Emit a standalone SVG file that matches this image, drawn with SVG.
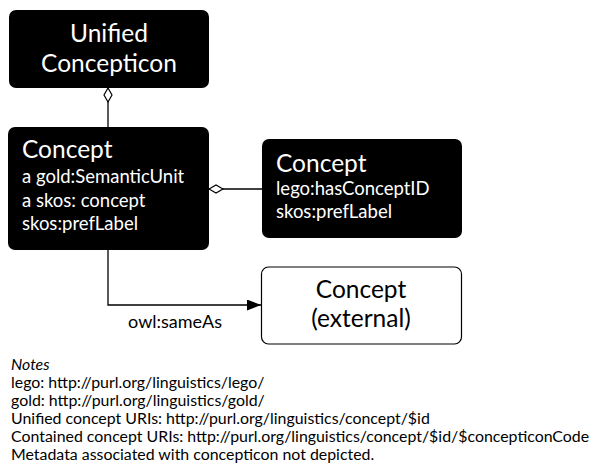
<svg xmlns="http://www.w3.org/2000/svg" width="601" height="475" viewBox="0 0 601 475">
<style>
text{font-family:Lato,"Open Sans","DejaVu Sans",sans-serif}
.dark{fill:#000}
.light{fill:#fff;stroke:#000;stroke-width:1.2}
.w{fill:#fff}
.big{font-size:24.5px}
.mid{font-size:18.5px}
.note{font-size:15.9px;fill:#000}
.conn{fill:none;stroke:#000;stroke-width:1.3}
</style>
<defs>
<marker id="dia" markerWidth="16" markerHeight="10" refX="15" refY="5" orient="auto" markerUnits="userSpaceOnUse">
<path d="M1,5 L8,1 L15,5 L8,9 Z" fill="#fff" stroke="#000" stroke-width="1.2"/>
</marker>
<marker id="arr" markerWidth="14" markerHeight="11" refX="14" refY="5.5" orient="auto" markerUnits="userSpaceOnUse">
<path d="M0,0 L14,5.5 L0,11 Z" fill="#000"/>
</marker>
</defs>
<g id="connectors">
<path class="conn" d="M108,127 L108,88" marker-end="url(#dia)"/>
<path class="conn" d="M262,189 L209,189" marker-end="url(#dia)"/>
<path class="conn" d="M108,250 L108,305 L261,305" marker-end="url(#arr)"/>
<text x="175" y="328" text-anchor="middle" font-size="18" fill="#000">owl:sameAs</text>
</g>
<g id="unified">
<rect class="dark" x="9" y="10" width="200" height="78" rx="7"/>
<text class="w big" x="109" y="42" text-anchor="middle">Unified</text>
<text class="w big" x="109" y="72" text-anchor="middle">Concepticon</text>
</g>
<g id="concept">
<rect class="dark" x="8" y="127" width="201" height="123" rx="7"/>
<text class="w big" x="22" y="158">Concept</text>
<text class="w mid" x="22" y="183">a gold:SemanticUnit</text>
<text class="w mid" x="22" y="207">a skos: concept</text>
<text class="w mid" x="22" y="230">skos:prefLabel</text>
</g>
<g id="concept-contained">
<rect class="dark" x="262" y="139" width="200" height="99" rx="7"/>
<text class="w big" x="276" y="172">Concept</text>
<text class="w mid" x="276" y="195">lego:hasConceptID</text>
<text class="w mid" x="276" y="218">skos:prefLabel</text>
</g>
<g id="concept-external">
<rect class="light" x="261.5" y="267" width="200" height="77" rx="7"/>
<text class="big" x="361" y="298" text-anchor="middle" fill="#000">Concept</text>
<text class="big" x="361" y="327" text-anchor="middle" fill="#000">(external)</text>
</g>
<g id="notes">
<text class="note" x="11" y="370" font-style="italic">Notes</text>
<text class="note" x="11" y="388">lego: http://purl.org/linguistics/lego/</text>
<text class="note" x="11" y="406">gold: http://purl.org/linguistics/gold/</text>
<text class="note" x="11" y="424">Unified concept URIs: http://purl.org/linguistics/concept/$id</text>
<text class="note" x="11" y="442">Contained concept URIs: http://purl.org/linguistics/concept/$id/$concepticonCode</text>
<text class="note" x="11" y="460">Metadata associated with concepticon not depicted.</text>
</g>
</svg>
